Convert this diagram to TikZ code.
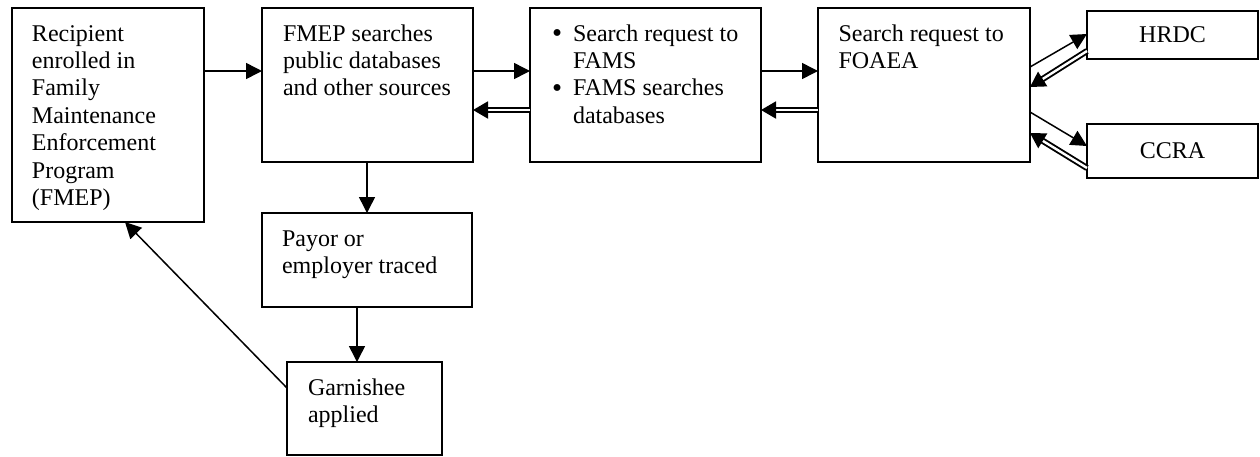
\documentclass[tikz,border=0pt]{standalone}
\usepackage{fontspec}
\usepackage{graphicx}
\setmainfont{Liberation Serif}
\usetikzlibrary{arrows.meta,calc}
\newcommand\boxtxt[4]{\parbox[c][#2pt][t]{#1pt}{\fontsize{24pt}{27.4pt}\selectfont\vspace*{\dimexpr33pt-\ht\strutbox\relax}\raggedright\leftskip=#3pt\strut #4}}
\newcommand\bul{\makebox[21pt][l]{\raisebox{-1.5pt}{\scalebox{1.2}{\textbullet}}}}
\tikzset{
  box/.style={draw, line width=1.7pt, inner sep=0pt, outer sep=0pt, anchor=north west},
  smallbox/.style={box, font=\fontsize{24pt}{27.4pt}\selectfont, minimum width=171pt},
  arr/.style={draw, line width=1.5pt, -{Triangle[length=16pt,width=16pt]}},
  dbl/.style={draw, line width=1.9pt, double, double distance=2.4pt, -{Triangle[length=15pt,width=17pt]}}
}
\begin{document}
\begin{tikzpicture}[x=1pt,y=-1pt]
\useasboundingbox (0,0) rectangle (1260,456);
\node[box] (rec) at (12,8) {\boxtxt{192}{214}{20}{Recipient\\enrolled in\\Family\\Maintenance\\Enforcement\\Program\\(FMEP)}};
\node[box] (fmep) at (262,8) {\boxtxt{211}{154}{21}{FMEP searches\\public databases\\and other sources}};
\node[box] (fams) at (530,8) {\boxtxt{231}{154}{22}{\hangindent=21pt\hangafter=1\bul Search request to\newline FAMS\par
  \hangindent=21pt\hangafter=1\bul FAMS searches\newline databases}};
\node[box] (foaea) at (818,8) {\boxtxt{212}{154}{20.5}{Search request to\\FOAEA}};
\node[smallbox, minimum height=48pt] (hrdc) at (1087,11) {HRDC};
\node[smallbox, minimum height=54pt] (ccra) at (1087,124) {CCRA};
\node[box] (payor) at (262,213) {\boxtxt{210}{94}{20}{Payor or\\employer traced}};
\node[box] (garn) at (287,362) {\boxtxt{155}{93}{21}{Garnishee\\applied}};

\draw[arr] ($(rec.north east)+(0,63)$) -- ($(fmep.north west)+(0,63)$);
\draw[arr] ($(fmep.north east)+(0,63)$) -- ($(fams.north west)+(0,63)$);
\draw[dbl] ($(fams.north west)+(0,102)$) -- ($(fmep.north east)+(0,102)$);
\draw[arr] ($(fams.north east)+(0,63)$) -- ($(foaea.north west)+(0,63)$);
\draw[dbl] ($(foaea.north west)+(0,102)$) -- ($(fams.north east)+(0,102)$);
\draw[arr] ($(foaea.north east)+(0,59)$) -- ($(hrdc.north west)+(0,23)$);
\draw[dbl] ($(hrdc.north west)+(0,40)$) -- ($(foaea.north east)+(0,79)$);
\draw[arr] ($(foaea.north east)+(0,104)$) -- ($(ccra.north west)+(0,22)$);
\draw[dbl] ($(ccra.north west)+(0,44)$) -- ($(foaea.north east)+(0,125)$);
\draw[arr] ($(fmep.south west)+(105,0)$) -- ($(payor.north west)+(105,0)$);
\draw[arr] ($(payor.south west)+(95,0)$) -- ($(garn.north west)+(70,0)$);
\draw[arr] ($(garn.north west)+(0,26)$) -- ($(rec.south west)+(113,0)$);
\end{tikzpicture}
\end{document}
